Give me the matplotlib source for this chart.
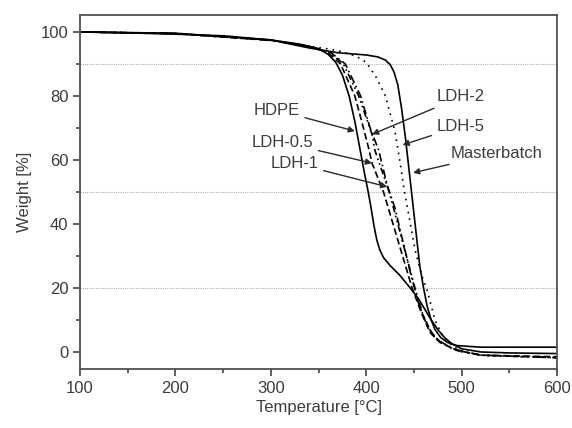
import matplotlib.pyplot as plt
from matplotlib.ticker import MultipleLocator

plt.rcParams['font.family'] = ['Liberation Sans', 'DejaVu Sans']

# TGA curves: temperature [°C] and weight [%]
hdpe_t = [100, 150, 200, 250, 300, 330, 350, 360, 368, 375, 382, 388, 393, 398, 402,
          405, 408, 411, 414, 418, 425, 435, 446, 455, 462, 468, 475, 482, 490, 500,
          520, 550, 600]
hdpe_w = [100, 99.7, 99.3, 98.8, 97.5, 96.2, 94.8, 93, 90.5, 86.5, 80, 72, 64, 56, 50,
          45, 39.5, 35, 32, 29.5, 27, 24, 20, 16.5, 13, 10, 7, 4.5, 2.5, 1,
          0, -0.3, -0.5]

mb_t = [100, 200, 300, 340, 370, 400, 412, 420, 425, 429, 433, 437, 441, 444, 447,
        450, 453, 456, 460, 464, 468, 472, 478, 485, 495, 520, 560, 600]
mb_w = [100, 99.6, 97.5, 95, 93.5, 92.8, 92.2, 91.2, 89.8, 87.5, 83.5, 76, 67, 59, 51,
        43, 35, 27, 20, 14, 10, 7, 4.5, 3, 2, 1.5, 1.5, 1.5]

ldh5_t = [100, 200, 300, 340, 360, 375, 390, 400, 410, 420, 430, 435, 440, 445, 451,
          458, 464, 472, 480, 490, 500, 520, 560, 600]
ldh5_w = [100, 99.5, 97.3, 95.5, 94.7, 93.8, 92.3, 90.5, 86, 80, 69, 60, 50, 42, 32,
          24, 19, 10, 5, 2, 0, -1, -1.5, -1.5]

ldh05_t = [100, 200, 300, 340, 360, 373, 388, 397, 403, 406, 418, 428, 438, 448, 458,
           467, 477, 495, 520, 600]
ldh05_w = [100, 99.5, 97.4, 95.5, 93.5, 90, 80, 70, 63, 59, 50, 40, 30, 20, 12,
           6, 3, 0.5, -1, -1.5]

ldh2_t = [100, 200, 300, 340, 362, 376, 392, 406, 409, 424, 433, 442, 451, 459, 468,
          478, 495, 520, 600]
ldh2_w = [100, 99.5, 97.4, 95.5, 93.5, 90, 80, 68, 63, 50, 40, 30, 20, 12, 6,
          3, 0.5, -1, -1.8]

ldh1_t = [100, 200, 300, 340, 363, 378, 394, 404, 413, 422, 430, 438, 446, 455, 464,
          474, 490, 520, 600]
ldh1_w = [100, 99.5, 97.4, 95.5, 93.5, 90, 80, 70, 63, 52, 45, 35, 25, 15, 8,
          4, 1, -1, -1.8]

fig = plt.figure(figsize=(5.72, 4.28), dpi=100)
ax = fig.add_axes([0.14, 0.138, 0.834, 0.827])

for y in [90, 50, 20]:
    ax.axhline(y, color='#b0b0b0', lw=0.8, ls=(0, (1, 1)), zorder=0)

ax.plot(hdpe_t, hdpe_w, color='black', lw=1.2)
ax.plot(mb_t, mb_w, color='black', lw=1.2)
ax.plot(ldh5_t, ldh5_w, color='black', lw=1.2, ls=(0, (1, 3)))
ax.plot(ldh05_t, ldh05_w, color='black', lw=1.2, ls=(0, (4, 2)))
ax.plot(ldh2_t, ldh2_w, color='black', lw=1.2, ls=(0, (4, 2, 1, 2, 1, 2)))
ax.plot(ldh1_t, ldh1_w, color='black', lw=1.2, ls=(0, (5, 2, 1, 2)))

ax.set_xlim(100, 600)
ax.set_ylim(-5.3, 105.3)
ax.xaxis.set_major_locator(MultipleLocator(100))
ax.xaxis.set_minor_locator(MultipleLocator(50))
ax.yaxis.set_major_locator(MultipleLocator(20))
ax.yaxis.set_minor_locator(MultipleLocator(10))

tc = '#3c3c3c'
for s in ax.spines.values():
    s.set_color('#505050')
    s.set_linewidth(1.3)
ax.tick_params(which='major', direction='out', length=5, width=1.3, color='#505050',
               labelsize=12, labelcolor=tc)
ax.tick_params(which='minor', direction='out', length=3, width=1.3, color='#505050')
ax.set_xlabel('Temperature [°C]', fontsize=12, color=tc, labelpad=3)
ax.set_ylabel('Weight [%]', fontsize=12, color=tc, labelpad=6)

arrow = dict(arrowstyle='-|>', color='#2a2a2a', lw=1.0, mutation_scale=9,
             shrinkA=2, shrinkB=0)
labels = [
    ('HDPE', (388, 69), (330, 75.6), 'right'),
    ('LDH-0.5', (406, 59), (344, 65.6), 'right'),
    ('LDH-1', (422, 51.6), (349.5, 59), 'right'),
    ('LDH-2', (406, 68), (474, 79.7), 'left'),
    ('LDH-5', (438, 64.7), (474, 70.6), 'left'),
    ('Masterbatch', (449, 56), (488, 62), 'left'),
]
for txt, tip, pos, ha in labels:
    ax.annotate(txt, xy=tip, xytext=pos, ha=ha, va='center', fontsize=12,
                color=tc, arrowprops=arrow)

fig.savefig('out.png', dpi=100)
